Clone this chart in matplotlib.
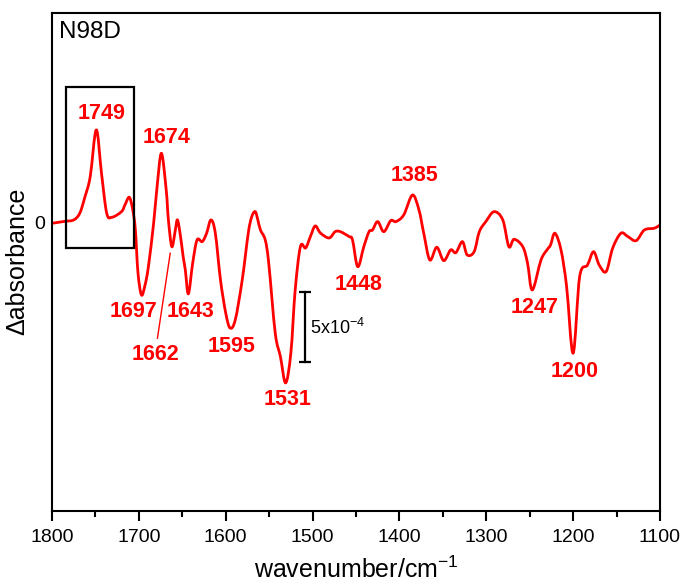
import numpy as np
import matplotlib
matplotlib.use("Agg")
import matplotlib.pyplot as plt
from matplotlib.patches import Rectangle, PathPatch
from matplotlib.path import Path

plt.rcParams["font.family"] = ["Liberation Sans", "DejaVu Sans"]
plt.rcParams["mathtext.default"] = "regular"

# Difference spectrum (wavenumber in cm^-1, delta absorbance in units of 1e-4)
wavenumber = [
    1800, 1785, 1775, 1768, 1762, 1756, 1749, 1743, 1737, 1731, 1720, 1716,
    1711, 1707, 1704, 1701, 1697, 1693, 1689, 1683, 1679, 1674, 1668.5, 1666,
    1662, 1658, 1655.5, 1652, 1649, 1646.5, 1643, 1638, 1633, 1627, 1622, 1617,
    1612, 1606, 1600, 1595, 1589, 1581, 1574, 1570, 1566, 1563, 1560, 1554.5,
    1550.5, 1543, 1537, 1531, 1525, 1520, 1514, 1508, 1502.5, 1497, 1491, 1481,
    1474, 1468, 1458, 1454, 1448, 1441, 1435, 1431, 1425, 1418, 1410, 1404,
    1395, 1385, 1377.5, 1372, 1365, 1357, 1349, 1341, 1335, 1327.5, 1322, 1314,
    1308, 1300.5, 1291, 1281, 1274, 1268, 1258, 1252.5, 1247, 1237, 1229.5, 1226,
    1221, 1214, 1207.5, 1200, 1192.5, 1183.5, 1176.5, 1170, 1162, 1154.5, 1145,
    1137, 1127.5, 1118, 1106.5, 1100,
]
delta_abs_e4 = [
    -0.06, 0.08, 0.18, 0.66, 1.84, 3.27, 6.61, 3.51, 0.66, 0.37, 0.77, 1.25,
    1.80, 0.89, -0.54, -3.60, -5.18, -4.50, -3.16, -0.06, 2.56, 4.94, 2.32, 0.20,
    -1.73, -0.54, 0.18, -1.01, -2.44, -3.39, -5.10, -2.90, -1.25, -1.37, -0.77, 0.18,
    -0.75, -4.11, -6.46, -7.54, -6.96, -4.11, -0.75, 0.41, 0.77, 0.18, -0.54, -1.25,
    -2.89, -7.89, -9.59, -11.46, -9.32, -4.82, -1.73, -1.82, -1.01, -0.25, -0.75, -1.11,
    -0.66, -0.66, -1.01, -1.25, -3.16, -1.73, -0.66, -0.54, 0.06, -0.66, 0.13, 0.06,
    0.54, 1.96, 0.89, -0.77, -2.68, -1.77, -2.73, -1.96, -2.16, -1.37, -2.32, -2.09,
    -0.66, 0.06, 0.77, 0.18, -1.73, -1.20, -1.73, -2.91, -4.82, -2.68, -1.91, -1.61,
    -0.77, -1.96, -4.59, -9.34, -3.87, -3.04, -2.09, -3.04, -3.51, -1.84, -0.77,
    -1.01, -1.30, -0.54, -0.41, -0.18,
]

# Band labels: text and label anchor (wavenumber, delta absorbance in 1e-4)
band_labels = ["1749", "1674", "1697", "1643", "1662", "1595", "1531",
               "1448", "1385", "1247", "1200"]
label_x = [1743.5, 1667.7, 1706.6, 1640.3, 1681.2, 1592.7, 1529.3,
           1447.1, 1382.5, 1244.1, 1198.0]
label_y = [7.75, 6.07, -6.37, -6.37, -9.46, -8.87, -12.68,
           -4.46, 3.36, -6.11, -10.66]

scale = 1e-4
x = np.array(wavenumber, dtype=float)
y = np.array(delta_abs_e4) * scale


def smooth_path(px, py):
    """Cubic Bezier path through the points (Catmull-Rom control points)."""
    pts = np.column_stack([px, py])
    ext = np.vstack([pts[0], pts, pts[-1]])
    verts = [pts[0]]
    codes = [Path.MOVETO]
    for i in range(1, len(ext) - 2):
        p0, p1, p2, p3 = ext[i - 1], ext[i], ext[i + 1], ext[i + 2]
        c1 = p1 + (p2 - p0) / 6.0
        c2 = p2 - (p3 - p1) / 6.0
        verts += [c1, c2, p2]
        codes += [Path.CURVE4] * 3
    return Path(np.array(verts), codes)


fig = plt.figure(figsize=(6.85, 5.82), dpi=100)
ax = fig.add_axes([0.0759, 0.1227, 0.9635 - 0.0759, 0.9777 - 0.1227])

ax.add_patch(PathPatch(smooth_path(x, y), facecolor="none",
                       edgecolor="#ff0000", lw=2.0, joinstyle="round",
                       capstyle="round"))

ax.set_xlim(1800, 1100)
ax.set_ylim(-20.58 * scale, 14.96 * scale)

ax.set_xticks(np.arange(1800, 1099, -100))
ax.set_xticks(np.arange(1750, 1100, -100), minor=True)
ax.set_yticks([0])
ax.set_yticklabels(["0"])
ax.tick_params(axis="x", which="major", direction="out", length=7, width=1.5,
               labelsize=14, pad=6, top=False)
ax.tick_params(axis="x", which="minor", direction="out", length=4, width=1.5,
               top=False)
ax.tick_params(axis="y", length=0, labelsize=14, pad=5)
for s in ax.spines.values():
    s.set_linewidth(1.5)

ax.set_xlabel("wavenumber/cm$^{-1}$", fontsize=18, labelpad=8)
ax.set_ylabel("\u0394absorbance", fontsize=18)
ax.yaxis.set_label_coords(-0.037, 0.5)

ax.text(0.0115, 0.961, "N98D", transform=ax.transAxes, fontsize=17.5,
        ha="left", va="center")

# Box around the 1749 band region
ax.add_patch(Rectangle((1783.9, -1.8 * scale), 1705.1 - 1783.9, 11.5 * scale,
                       fill=False, edgecolor="black", lw=1.6))

for txt, lx, ly in zip(band_labels, label_x, label_y):
    ax.text(lx, ly * scale, txt, color="#ff0000", fontsize=15.5,
            fontweight="bold", ha="center", va="center")

# Leader line from the 1662 label to its band
ax.plot([1678.6, 1663.9], [-8.27 * scale, -2.2 * scale], color="#ff0000", lw=1.0)

# Vertical scale bar of 5x10^-4
ax.plot([1508.2, 1508.2], [-5 * scale, -10 * scale], color="black", lw=1.6,
        marker="_", markersize=8, markeredgewidth=1.6)
ax.text(1503.0, -7.5 * scale, "5x10$^{-4}$", fontsize=13, ha="left",
        va="center")

fig.savefig("out.png", dpi=100)
